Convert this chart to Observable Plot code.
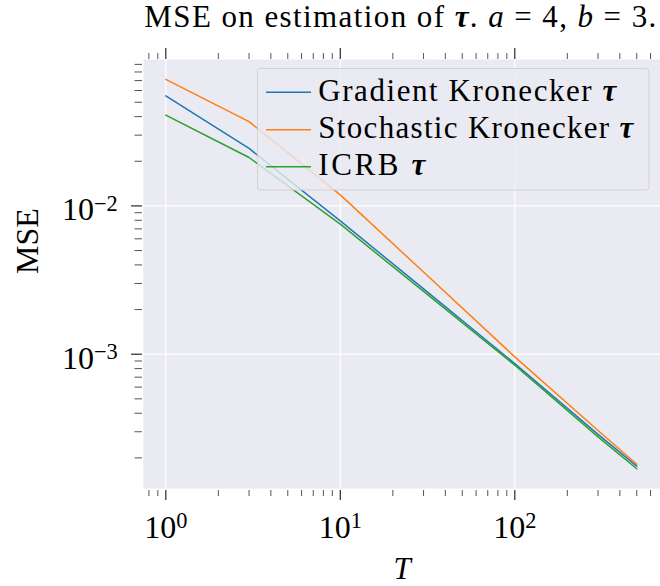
<!DOCTYPE html>
<html><head><meta charset="utf-8">
<script src="https://cdn.jsdelivr.net/npm/d3@7"></script>
<script src="https://cdn.jsdelivr.net/npm/@observablehq/plot@0.6"></script>
<style>body{margin:0;background:#fff} svg{display:block}</style>
</head><body>
<div id="chart"></div>
<script>
// ---- data ----
const T = [1, 3, 10, 30, 100, 300, 500];
const gradientMSE   = [0.0552, 0.0244, 0.00792, 0.00276, 0.000865, 0.000288, 0.000176];
const stochasticMSE = [0.0714, 0.0370, 0.01186, 0.00358, 0.000960, 0.000306, 0.000181];
const icrbMSE       = [0.0409, 0.0212, 0.00753, 0.00265, 0.000843, 0.000277, 0.000169];
const seriesNames  = ["Gradient Kronecker τ", "Stochastic Kronecker τ", "ICRB τ"];
const seriesColors = ["#1f77b4", "#ff7f0e", "#2ca02c"];
const xMajorTicks = [1, 10, 100];
const xTickLabels = ["10^0", "10^1", "10^2"];
const xMinorTicks = [0.8, 0.9, 2, 3, 4, 5, 6, 7, 8, 9, 20, 30, 40, 50, 60, 70, 80, 90, 200, 300, 400, 500, 600];
const yMajorTicks = [1e-3, 1e-2];
const yTickLabels = ["10^−3", "10^−2"];
const yMinorTicks = [2e-4, 3e-4, 4e-4, 5e-4, 6e-4, 7e-4, 8e-4, 9e-4,
                     2e-3, 3e-3, 4e-3, 5e-3, 6e-3, 7e-3, 8e-3, 9e-3,
                     2e-2, 3e-2, 4e-2, 5e-2, 6e-2, 7e-2, 8e-2, 9e-2];

const rows = [];
[gradientMSE, stochasticMSE, icrbMSE].forEach((arr, k) =>
  T.forEach((t, i) => rows.push({T: t, mse: arr[i], series: seriesNames[k]})));

const FONT = "'Liberation Serif', 'Times New Roman', serif";
const TICKFS = 32;
const tickColor = "#2a2a2a", minorColor = "#555";

const svg = Plot.plot({
  width: 660, height: 586,
  marginLeft: 143, marginRight: 0, marginTop: 59, marginBottom: 98,
  style: {fontFamily: FONT, fontSize: "31px", background: "#fff", overflow: "visible", color: "#000"},
  x: {type: "log", domain: [0.745, 684]},
  y: {type: "log", domain: [1.243e-4, 0.0971]},
  color: {domain: seriesNames, range: seriesColors},
  marks: [
    Plot.frame({fill: "#EAEAF2", stroke: "none"}),
    Plot.gridX(xMajorTicks, {stroke: "#fff", strokeOpacity: 1, strokeWidth: 1.2}),
    Plot.gridY(yMajorTicks, {stroke: "#fff", strokeOpacity: 1, strokeWidth: 1.2}),
    Plot.line(rows, {x: "T", y: "mse", z: "series", stroke: "series", strokeWidth: 1.5}),
    // ticks
    Plot.axisX(xMinorTicks, {anchor: "bottom", tickSize: 6, dy: 2, tickFormat: () => "", stroke: minorColor, label: null}),
    Plot.axisX(xMajorTicks, {anchor: "bottom", tickSize: 10, dy: 2, tickFormat: () => "", stroke: tickColor, strokeWidth: 1.2, label: null}),
    Plot.axisX(xMinorTicks, {anchor: "top", tickSize: 6, dy: -1, tickFormat: () => "", stroke: minorColor, label: null}),
    Plot.axisX(xMajorTicks, {anchor: "top", tickSize: 11, dy: -1, tickFormat: () => "", stroke: tickColor, strokeWidth: 1.2, label: null}),
    Plot.axisY(yMinorTicks, {anchor: "left", tickSize: 7.5, dx: -1, tickFormat: () => "", stroke: minorColor, label: null}),
    Plot.axisY(yMajorTicks, {anchor: "left", tickSize: 11, dx: -1, tickFormat: () => "", stroke: tickColor, strokeWidth: 1.2, label: null}),
    // tick labels
    Plot.text(xMajorTicks, {x: d => d, text: (d, i) => xTickLabels[i], frameAnchor: "bottom", lineAnchor: "bottom",
      dy: 49, textAnchor: "middle", fontSize: TICKFS}),
    Plot.text(yMajorTicks, {y: d => d, text: (d, i) => yTickLabels[i], frameAnchor: "left", lineAnchor: "bottom",
      dx: -25.7, dy: 14.3, textAnchor: "end", fontSize: TICKFS}),
    // axis labels
    Plot.text(["T"], {frameAnchor: "bottom", lineAnchor: "bottom", dy: 90, fontStyle: "italic", fontSize: 31}),
    Plot.text(["MSE"], {frameAnchor: "left", lineAnchor: "bottom", rotate: -90, dx: -106, fontSize: 32})
  ]
});
document.getElementById("chart").appendChild(svg);

// superscript exponents in tick labels
function superscript(el, fs) {
  const [base, exp] = el.textContent.split("^");
  el.textContent = "";
  const s = d3.select(el);
  s.append("tspan").text(base);
  s.append("tspan").attr("dy", (-0.3 * fs) + "px").style("font-size", (0.7 * fs) + "px").text(exp);
}
Array.from(svg.querySelectorAll("text"))
  .filter(el => el.textContent.includes("^"))
  .forEach(el => superscript(el, TICKFS));

function fitWidth(el, target) {
  const w = el.getComputedTextLength();
  const n = el.textContent.length;
  if (n > 1) el.setAttribute("letter-spacing", ((target - w) / (n - 1)).toFixed(3) + "px");
}

// title
const root = d3.select(svg);
const title = root.append("text").attr("x", 401).attr("y", 27).attr("text-anchor", "middle")
  .style("font-family", FONT).style("font-size", "31px").attr("fill", "#000");
title.append("tspan").text("MSE on estimation of ");
title.append("tspan").attr("font-weight", "bold").attr("font-style", "italic").text("τ");
title.append("tspan").text(". ");
title.append("tspan").attr("font-style", "italic").text("a");
title.append("tspan").text(" = 4, ");
title.append("tspan").attr("font-style", "italic").text("b");
title.append("tspan").text(" = 3.");
fitWidth(title.node(), 512);

// legend
const lg = root.append("g").attr("aria-label", "legend");
lg.append("rect").attr("x", 257.5).attr("y", 68.5).attr("width", 391.5).attr("height", 121.5).attr("rx", 3)
  .attr("fill", "#EAEAF2").attr("fill-opacity", 0.8).attr("stroke", "#cccccc").attr("stroke-opacity", 0.8);
const handleY = [92.3, 129.7, 166.7];
const labelWidths = [298, 315, 107];
seriesNames.forEach((name, i) => {
  lg.append("line").attr("x1", 266).attr("x2", 311).attr("y1", handleY[i]).attr("y2", handleY[i])
    .attr("stroke", seriesColors[i]).attr("stroke-width", 1.5);
  const cut = name.lastIndexOf(" ");
  const t = lg.append("text").attr("x", 318.3).attr("y", handleY[i] + 8.6).attr("text-anchor", "start")
    .style("font-family", FONT).style("font-size", "31px").attr("fill", "#000");
  t.append("tspan").text(name.slice(0, cut + 1));
  t.append("tspan").attr("font-weight", "bold").attr("font-style", "italic").text(name.slice(cut + 1));
  fitWidth(t.node(), labelWidths[i]);
});
</script>
</body></html>
